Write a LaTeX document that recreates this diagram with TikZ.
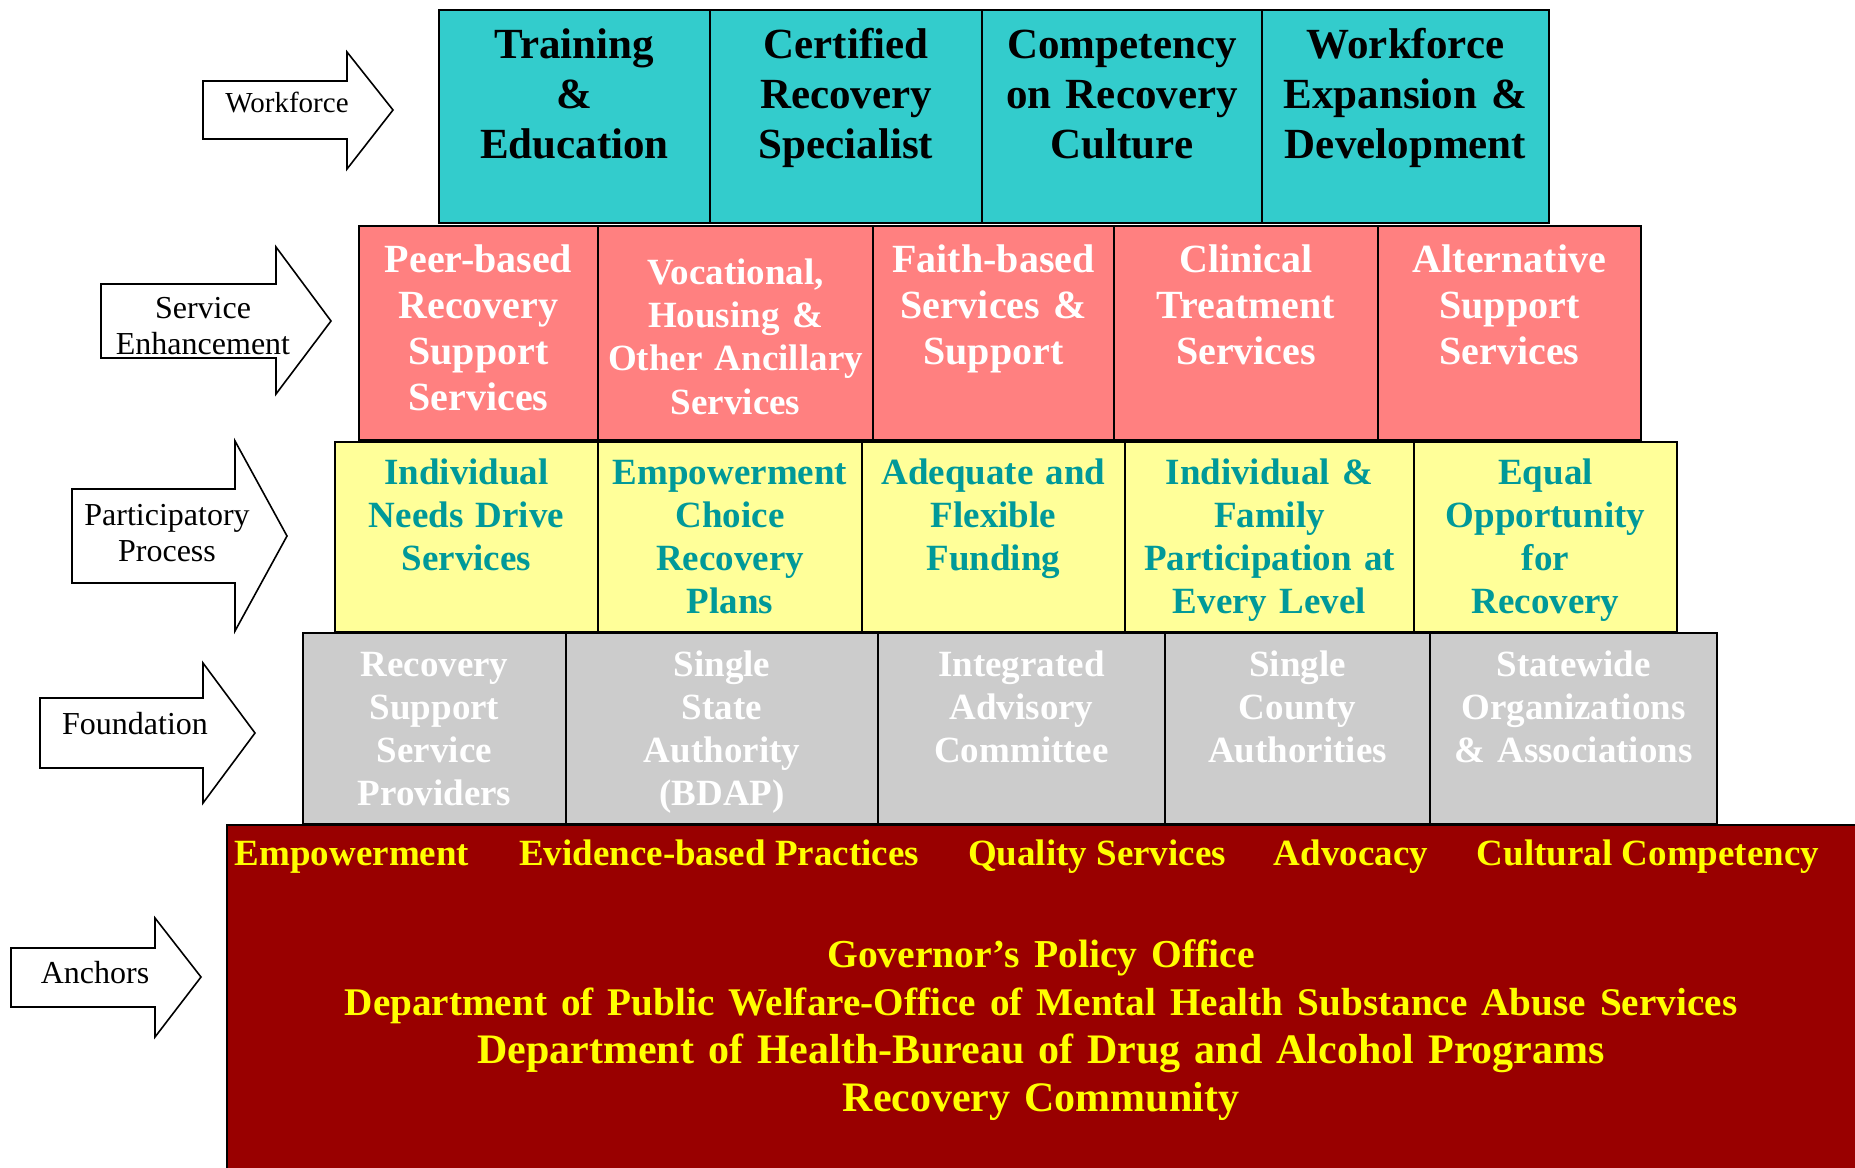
\documentclass[tikz,border=0pt]{standalone}
\usepackage{fontspec}
\setmainfont{Liberation Serif}
\definecolor{workteal}{HTML}{33CCCC}
\definecolor{servpink}{HTML}{FF8080}
\definecolor{partyellow}{HTML}{FFFF99}
\definecolor{partteal}{HTML}{009999}
\definecolor{foundgrey}{HTML}{CCCCCC}
\definecolor{anchorred}{HTML}{990000}
\definecolor{anchoryellow}{HTML}{FFFF00}

\begin{document}
\begin{tikzpicture}[x=0.5pt, y=-0.5pt,
					cell/.style={draw, line width=1pt, inner sep=0pt, anchor=north west, align=center},
					workcell/.style={cell, fill=workteal, text=black, font=\fontsize{21.5}{25}\selectfont\bfseries, text height=24pt, text depth=82.5pt},
					servcell/.style={cell, fill=servpink, text=white, font=\fontsize{20}{23}\selectfont\bfseries, text height=23pt, text depth=84pt},
					partcell/.style={cell, fill=partyellow, text=partteal, font=\fontsize{18.5}{21.5}\selectfont\bfseries, text height=21pt, text depth=74pt},
					foundcell/.style={cell, fill=foundgrey, text=white, font=\fontsize{18.5}{21.5}\selectfont\bfseries, text height=21.5pt, text depth=74pt},
					sidearrow/.style={draw, fill=white, line width=0.8pt},
					sidelabel/.style={align=center, inner sep=0pt, font=\fontsize{16}{18}\selectfont},
					anchorstrip/.style={anchor=base, inner sep=0pt, text=anchoryellow, font=\fontsize{18.5}{21.5}\selectfont\bfseries},
					anchorblock/.style={anchor=base, inner sep=0pt, align=center, text width=760pt, text=anchoryellow, font=\fontsize{21}{24}\selectfont\bfseries}]
	\useasboundingbox (0,0) rectangle (1855,1167);
	\fill[white] (0,0) rectangle (1855,1167);

	% anchors
	\node[draw, line width=1pt, fill=anchorred, anchor=north west, inner sep=0pt, minimum width=830pt, minimum height=185pt] (anchorbase) at (226,824) {};
	\node[anchorstrip] (empowerment) at (352,865) {Empowerment};
	\node[anchorstrip] (evidence) at (719,865) {Evidence-based Practices};
	\node[anchorstrip] (quality) at (1097,865) {Quality Services};
	\node[anchorstrip] (advocacy) at (1351,865) {Advocacy};
	\node[anchorstrip] (cultural) at (1648,865) {Cultural Competency};
	\node[anchorblock] (agencies) at (1041,967) {{\fontsize{19.8}{24}\selectfont Governor’s Policy Office}\\{\fontsize{19.6}{24}\selectfont Department of Public Welfare-Office of Mental Health Substance Abuse Services}\\Department of Health-Bureau of Drug and Alcohol Programs\\Recovery Community};

	% foundation
	\node[foundcell, text width=131.5pt] (rssp) at (302,632) {Recovery\\Support\\Service\\Providers};
	\node[foundcell, text width=156pt] (ssa) at (565,632) {Single\\State\\Authority\\(BDAP)};
	\node[foundcell, text width=143.5pt] (iac) at (877,632) {Integrated\\Advisory\\Committee};
	\node[foundcell, text width=132.5pt] (sca) at (1164,632) {Single\\County\\Authorities};
	\node[foundcell, text width=143.5pt] (soa) at (1429,632) {Statewide\\Organizations\\\& Associations};

	% participatory process
	\node[partcell, text width=131.5pt] (needs) at (334,441) {Individual\\Needs Drive\\Services};
	\node[partcell, text width=132pt] (choice) at (597,441) {Empowerment\\Choice\\Recovery\\Plans};
	\node[partcell, text width=131.5pt] (funding) at (861,441) {Adequate and\\Flexible\\Funding};
	\node[partcell, text width=144.5pt] (family) at (1124,441) {Individual \&\\Family\\Participation at\\Every Level};
	\node[partcell, text width=131.5pt] (equal) at (1413,441) {Equal\\Opportunity\\for\\Recovery};

	% service enhancement
	\node[servcell, text width=119.5pt] (peer) at (358,225) {Peer-based\\Recovery\\Support\\Services};
	\node[servcell, text width=137.5pt, font=\fontsize{18.5}{21.7}\selectfont\bfseries, text height=29pt, text depth=78pt] (vocational) at (597,225) {Vocational,\\Housing \&\\Other Ancillary\\Services};
	\node[servcell, text width=120.5pt] (faith) at (872,225) {Faith-based\\Services \&\\Support};
	\node[servcell, text width=132pt] (clinical) at (1113,225) {Clinical\\Treatment\\Services};
	\node[servcell, text width=131.5pt] (alternative) at (1377,225) {Alternative\\Support\\Services};

	% workforce
	\node[workcell, text width=135.5pt] (training) at (438,9) {Training\\\&\\Education};
	\node[workcell, text width=136pt] (certified) at (709,9) {Certified\\Recovery\\Specialist};
	\node[workcell, text width=140pt] (competency) at (981,9) {Competency\\on Recovery\\Culture};
	\node[workcell, text width=143.5pt] (expansion) at (1261,9) {Workforce\\Expansion \&\\Development};

	% side arrows
	\draw[sidearrow] (203,81) -- (347,81) -- (347,52) -- (393,110) -- (347,169) -- (347,139) -- (203,139) -- cycle;
	\node[sidelabel, font=\fontsize{14.5}{17}\selectfont] (lblworkforce) at (287,103) {Workforce};
	\draw[sidearrow] (101,284) -- (276,284) -- (276,247) -- (331,321) -- (276,394) -- (276,358) -- (101,358) -- cycle;
	\node[sidelabel] (lblservice) at (203,326) {Service\\Enhancement};
	\draw[sidearrow] (72,489) -- (235,489) -- (235,441) -- (287,536) -- (235,631) -- (235,583) -- (72,583) -- cycle;
	\node[sidelabel] (lblpart) at (167,533) {Participatory\\Process};
	\draw[sidearrow] (40,698) -- (203,698) -- (203,663) -- (255,733) -- (203,803) -- (203,768) -- (40,768) -- cycle;
	\node[sidelabel] (lblfound) at (135,724) {Foundation};
	\draw[sidearrow] (11,948) -- (155,948) -- (155,918) -- (201,977) -- (155,1037) -- (155,1007) -- (11,1007) -- cycle;
	\node[sidelabel] (lblanchors) at (95,973) {Anchors};
\end{tikzpicture}
\end{document}
